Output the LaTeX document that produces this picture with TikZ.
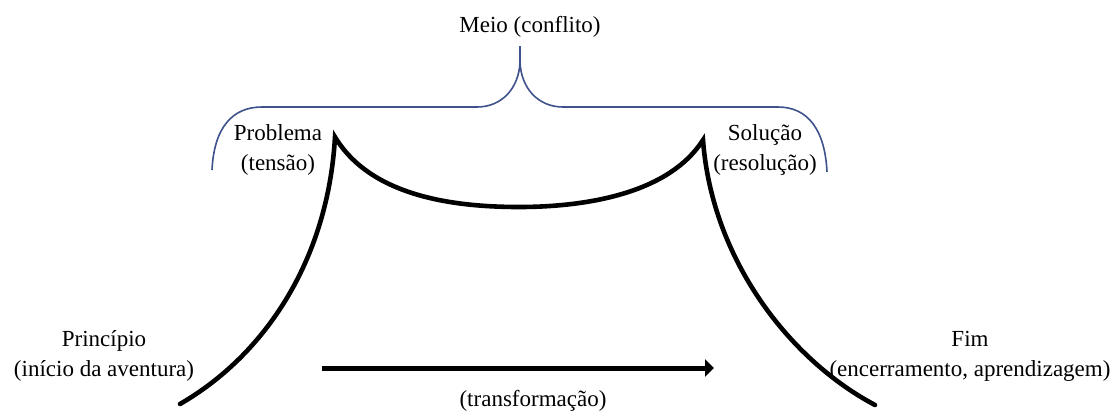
\documentclass[tikz,border=0pt]{standalone}
\usepackage{fontspec}
\setmainfont{Liberation Serif}
\usepackage{xcolor}
\usetikzlibrary{arrows.meta}
\definecolor{braceblue}{RGB}{62,82,140}

\begin{document}
\begin{tikzpicture}[
    x=1pt, y=-1pt,
    lbl/.style={align=center, inner sep=0pt,
                font=\fontsize{23}{30}\selectfont},
    curve/.style={line width=4.6pt, line cap=round},
    brace/.style={draw=braceblue, line width=1.6pt},
    arrow/.style={-{Triangle[length=9pt, width=17pt]}, line width=5pt},
  ]

  % ══════════════════════════════════════════════
  % Canvas — picture units are pixels, y grows downward
  % ══════════════════════════════════════════════
  \useasboundingbox (0, 0) rectangle (1113, 410);

  % ── Labels ──
  \node[lbl] at (530, 27) (meio) {Meio (conflito)};
  \node[lbl] at (278, 150) (problema) {Problema\\(tensão)};
  \node[lbl] at (765, 150) (solucao) {Solução\\(resolução)};
  \node[lbl] at (104, 356) (principio)
    {Princípio\\(início da aventura)};
  \node[lbl] at (970, 356) (fim)
    {Fim\\(encerramento, aprendizagem)};
  \node[lbl] at (533, 401) (transf) {(transformação)};

  % ── Key points of the story curve ──
  \coordinate (start) at (180, 404);
  \coordinate (probpeak) at (335, 137);
  \coordinate (valley) at (519, 207);
  \coordinate (solpeak) at (703, 140);
  \coordinate (finish) at (875, 405);

  % ── Brace over the middle part ──
  \coordinate (tip) at (520, 46);
  \draw[brace]
    (212, 170) .. controls (214, 128) and (232, 107) .. (262, 107)
    -- (477, 107) .. controls (502, 107) and (519, 88) .. (520, 62)
    -- (tip);
  \draw[brace]
    (520, 62) .. controls (521, 88) and (538, 107) .. (563, 107)
    -- (778, 107) .. controls (808, 107) and (825, 130) .. (827, 172);

  % ── Story curve: rise, conflict, fall ──
  \draw[curve]
    (start) .. controls (265, 355) and (328, 260) .. (probpeak)
    .. controls (370, 195) and (450, 207) .. (valley)
    .. controls (590, 207) and (670, 192) .. (solpeak)
    .. controls (712, 260) and (790, 360) .. (finish);

  % ── Transformation arrow ──
  \coordinate (arrfrom) at (322, 368);
  \coordinate (arrto) at (714, 368);
  \draw[arrow] (arrfrom) -- (arrto);

\end{tikzpicture}
\end{document}
